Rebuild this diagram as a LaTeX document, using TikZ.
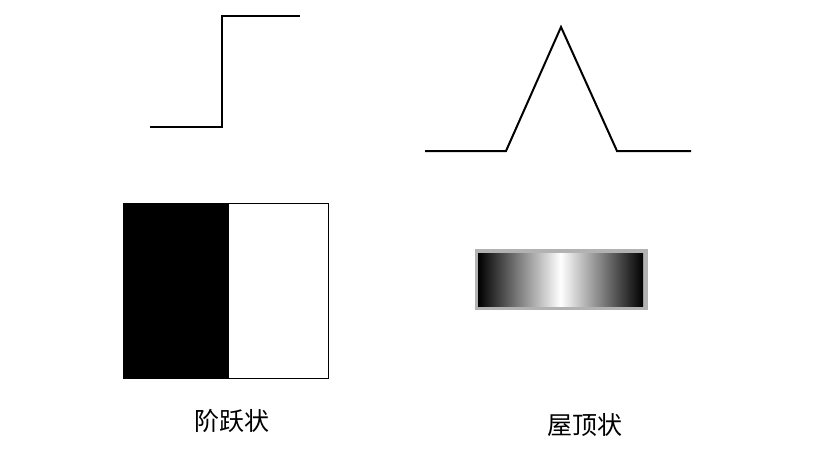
\documentclass[tikz,border=0pt]{standalone}
\usepackage{fontspec}
\newfontfamily\cjk{Noto Sans CJK SC}
\usetikzlibrary{positioning}
\tikzset{
  edgeline/.style={line width=2pt, line join=miter, black},
  caption/.style={font=\cjk\fontsize{25}{28}\selectfont, inner sep=0pt}
}
\begin{document}
\begin{tikzpicture}[x=1pt, y=-1pt]
\useasboundingbox (0,0) rectangle (818,448);
% step profile
\coordinate (s1) at (150,127);
\coordinate (s2) at (222,127);
\coordinate (s3) at (222,16);
\coordinate (s4) at (300,16);
\draw[edgeline] (s1) -- (s2) -- (s3) -- (s4);
% roof profile
\coordinate (r1) at (425,151);
\coordinate (r2) at (506,151);
\coordinate (r3) at (561,27);
\coordinate (r4) at (617,151);
\coordinate (r5) at (691,151);
\draw[edgeline] (r1) -- (r2) -- (r3) -- (r4) -- (r5);
% step image
 \fill[black] (123,203) rectangle (229,378);
 \draw[line width=1pt] (123,203) rectangle (328,378);
% roof image
 \fill[black!30] (475,249) rectangle (648,310);
 \shade[left color=black, right color=black, middle color=white] (478,253) rectangle (643,306);
% labels
\node[caption] (step) at (232,421) {阶跃状};
\node[caption] (roof) at (585,425) {屋顶状};
\end{tikzpicture}
\end{document}
